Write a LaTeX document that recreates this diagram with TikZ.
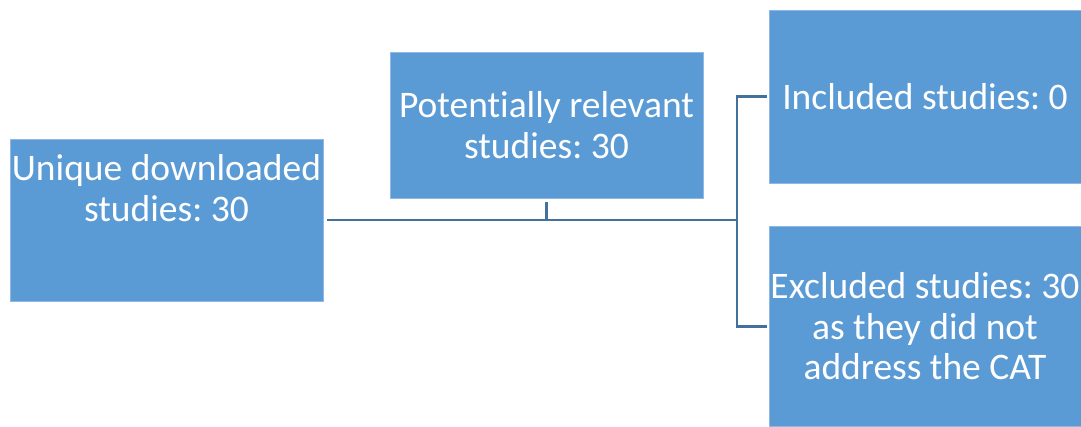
\documentclass[tikz,border=0pt]{standalone}
\usepackage{fontspec}
\setmainfont{Carlito}[Ligatures=NoCommon]
\usepackage{xcolor}
\definecolor{FlowBox}{HTML}{5B9BD5}
\definecolor{FlowEdge}{HTML}{8FB8E3}
\definecolor{FlowLine}{HTML}{41719C}
\usepackage{tikz}
\usetikzlibrary{calc, positioning}
\frenchspacing

\begin{document}
\begin{tikzpicture}[x=1pt, y=-1pt]
    % study selection flow -- boxes and elbow connectors
\tikzset{
  flowbox/.style={fill=FlowBox, draw=FlowEdge, line width=0.8pt,
    text=white, align=center, inner sep=0pt,
    font=\fontsize{37.5}{40.5}\selectfont},
  flowtext/.style={text=white, align=center, inner sep=0pt,
    font=\fontsize{37.5}{40.5}\selectfont},
  flowline/.style={FlowLine, line width=2.6pt},
}
  \useasboundingbox (0,0) rectangle (1081,426);

  % Left box: downloaded studies (text sits high)
  \node[flowbox, minimum width=313pt, minimum height=162pt] (unique)
    at (166.5,220) {};
  \node[flowtext, anchor=north] (uniquetext) at ([yshift=-16pt]unique.north)
    {Unique downloaded\\studies: 30};

  % Middle box: screened studies
  \node[flowbox, minimum width=313pt, minimum height=146pt] (relevant)
    at (546.5,125) {Potentially relevant\\studies: 30};

  % Right boxes: outcome
  \node[flowbox, minimum width=312pt, minimum height=173pt] (included)
    at (925,96.5) {Included studies: 0};
  \node[flowbox, minimum width=312pt, minimum height=200pt] (excluded)
    at (925,326.5) {Excluded studies: 30\\as they did not\\address the CAT};

  % Connectors
  \coordinate (split) at (737,220);
  \draw[flowline, shorten <=4pt] (unique.east) -- (split);
  \draw[flowline, shorten <=4pt] (relevant.south) -- (relevant.south |- split);
  \draw[flowline, shorten >=2pt] (split) |- (included.west);
  \draw[flowline, shorten >=2pt] (split) |- (excluded.west);

\end{tikzpicture}
\end{document}
